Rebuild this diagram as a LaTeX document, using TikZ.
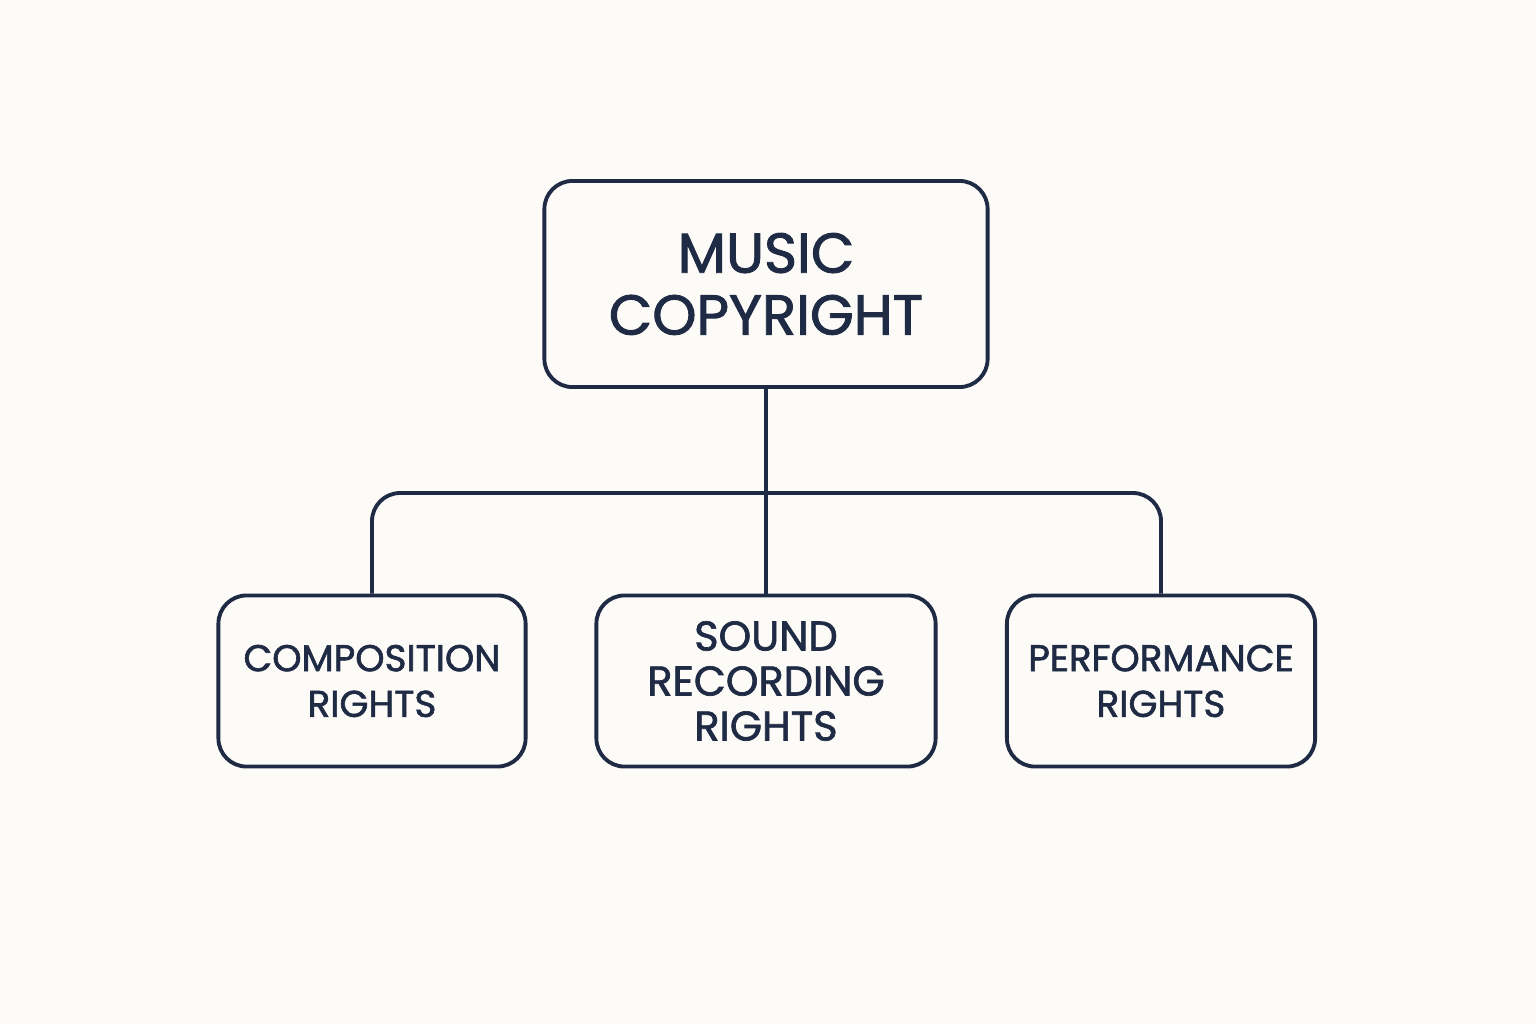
\documentclass[tikz,border=0pt]{standalone}
\usepackage{fontspec}
\setmainfont{Poppins}[FakeBold=1.6, AutoFakeBold=1.6]
\usepackage{tikz}
\definecolor{ink}{HTML}{1F2A44}
\definecolor{paper}{HTML}{FDFBF7}

\begin{document}
\begin{tikzpicture}[x=0.01cm, y=-0.01cm,
  box/.style={draw=ink, line width=1.1pt, rounded corners=8pt, inner sep=0pt, text=ink, align=center, fill=paper},
  link/.style={draw=ink, line width=1.1pt}]
\fill[paper] (0,0) rectangle (1536,1024);
\useasboundingbox (0,0) rectangle (1536,1024);

% Root
\node[box, minimum width=4.43cm, minimum height=2.06cm, font=\bfseries\fontsize{16}{17.6}\selectfont] (music) at (766,284) {MUSIC\\COPYRIGHT};

% Branches
\node[box, minimum width=3.07cm, minimum height=1.71cm, font=\bfseries\fontsize{10.6}{13}\selectfont] (comp) at (372,681) {COMPOSITION\\RIGHTS};
\node[box, minimum width=3.39cm, minimum height=1.71cm, font=\bfseries\fontsize{11.8}{12.8}\selectfont] (sound) at (766,681) {SOUND\\RECORDING\\RIGHTS};
\node[box, minimum width=3.08cm, minimum height=1.71cm, font=\bfseries\fontsize{10.6}{13}\selectfont] (perf) at (1161,681) {PERFORMANCE\\RIGHTS};

% Connectors
\coordinate (bus) at (766,493);
\draw[link] (music) -- (sound);
\draw[link, rounded corners=8pt] (comp.north) |- (bus) -| (perf.north);
\end{tikzpicture}
\end{document}
